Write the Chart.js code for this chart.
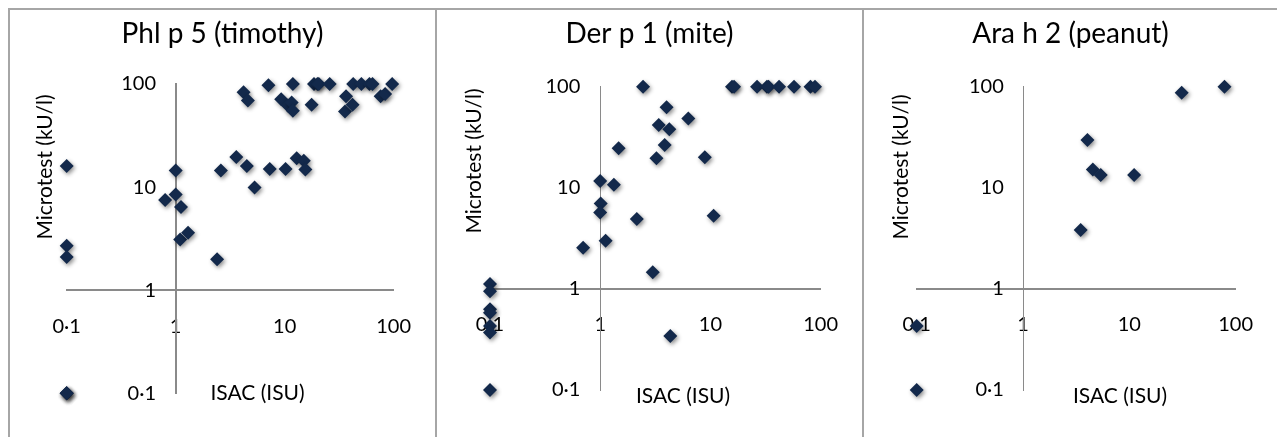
<!DOCTYPE html>
<html>
<head>
<meta charset="utf-8">
<script src="https://cdn.jsdelivr.net/npm/chart.js@4.4.0/dist/chart.umd.min.js"></script>
<style>
  html, body { margin: 0; padding: 0; background: #fff; width: 1277px; height: 437px; overflow: hidden; }
  .panel { position: absolute; top: 8px; height: 429px; box-sizing: border-box;
           border-top: 2px solid #a6a6a6; border-left: 2px solid #a6a6a6; }
  .panel canvas { display: block; }
</style>
</head>
<body>
<div class="panel" style="left:8px; width:427px"><canvas id="phlChart" width="425" height="427"></canvas></div>
<div class="panel" style="left:435px; width:427px"><canvas id="derChart" width="425" height="427"></canvas></div>
<div class="panel" style="left:862px; width:415px"><canvas id="araChart" width="413" height="427"></canvas></div>
<script>
// axis ticks (log scale, both axes)
const tickValues = [0.1, 1, 10, 100];
const tickLabels = ['0·1', '1', '10', '100'];

// Phl p 5 (timothy): ISAC vs Microtest
const phlIsac  = [0.1, 0.1, 0.1, 0.1, 0.1, 0.1,
                  1, 0.8, 1, 1.12, 1.1, 1.3, 2.4, 2.6, 3.6, 4.5, 5.3, 7.3, 10.2, 12.9, 15, 15.5,
                  4.2, 4.6, 7.1, 9.3, 10.7, 11.6, 11.9, 11.9, 17.7, 18.6, 20, 20.6, 25.9,
                  35.8, 36.6, 42, 42.6, 50.6, 60, 64, 76, 83.6, 97];
const phlMicro = [16, 2.7, 2.1, 0.1, 0.1, 0.1,
                  14.5, 7.5, 8.5, 6.4, 3.1, 3.6, 2.0, 14.5, 19.6, 16, 9.9, 15, 15, 19, 18, 14.8,
                  83, 69, 97, 71, 62, 66, 55, 100, 63, 100, 100, 100, 100,
                  54, 76, 63, 100, 100, 100, 100, 76, 80, 100];

// Der p 1 (mite)
const derIsac  = [0.1, 0.1, 0.1, 0.1, 0.1, 0.1, 0.1,
                  2.45, 15.7, 16.4, 26.5, 32.6, 33.7, 42, 57.4, 81, 89,
                  4.0, 6.3, 3.4, 4.24, 3.85, 1.47, 3.24, 8.9, 1, 1.33, 1.01, 1, 2.15, 10.7,
                  1.12, 0.7, 3.0, 4.33];
const derMicro = [1.12, 0.95, 0.63, 0.58, 0.43, 0.37, 0.1,
                  100, 100, 100, 100, 100, 100, 100, 100, 100, 100,
                  62.5, 48.6, 41.8, 37.9, 26.5, 24.6, 19.6, 20, 11.7, 10.7, 7.0, 5.7, 4.9, 5.3,
                  3.0, 2.56, 1.46, 0.343];

// Ara h 2 (peanut)
const araIsac  = [78.6, 31.1, 4.04, 4.54, 5.39, 11.1, 3.49, 0.1, 0.1];
const araMicro = [100, 87, 29.7, 15.2, 13.4, 13.4, 3.83, 0.43, 0.1];

const FONT = 'Lato';
const AXIS_GREY = '#8a8a8a';
const MARKER = '#13294b';
const Y_LABEL_AT = 0.66; // y tick labels sit a little left of the x = 1 axis line

const markerShadow = {
  id: 'markerShadow',
  beforeDatasetsDraw(chart) {
    const ctx = chart.ctx;
    ctx.save();
    ctx.shadowColor = 'rgba(0, 0, 0, 0.45)';
    ctx.shadowBlur = 4;
    ctx.shadowOffsetX = 1.5;
    ctx.shadowOffsetY = 2;
  },
  afterDatasetsDraw(chart) {
    chart.ctx.restore();
  }
};

// axis titles, placed where Excel put them
const captions = {
  id: 'captions',
  afterDraw(chart, args, opts) {
    const ctx = chart.ctx;
    ctx.save();
    ctx.fillStyle = '#000';
    ctx.font = '21px ' + FONT;
    ctx.textAlign = 'center';
    ctx.textBaseline = 'middle';
    ctx.fillText(opts.xText, opts.xAt[0], opts.xAt[1]);
    ctx.translate(opts.yAt[0], opts.yAt[1]);
    ctx.rotate(-Math.PI / 2);
    ctx.fillText(opts.yText, 0, 0);
    ctx.restore();
  }
};

function setTicks(scale) {
  scale.ticks = tickValues.map(v => ({ value: v }));
}

function createPanel(id, title, isac, micro, box) {
  const points = isac.map((x, i) => ({ x: x, y: micro[i] }));
  const tickFont = { family: FONT, size: 20 };

  return new Chart(document.getElementById(id), {
    type: 'scatter',
    data: {
      datasets: [{
        data: points,
        xAxisID: 'x',
        yAxisID: 'y',
        pointStyle: 'rectRot',
        pointRadius: 7,
        pointHoverRadius: 7,
        backgroundColor: MARKER,
        borderWidth: 0,
        clip: false
      }]
    },
    options: {
      responsive: false,
      animation: false,
      devicePixelRatio: 1,
      events: [],
      layout: { padding: { left: 0, right: 0, top: 0, bottom: box.bottom } },
      plugins: {
        legend: { display: false },
        tooltip: { enabled: false },
        title: {
          display: true,
          text: title,
          color: '#000',
          font: { family: FONT, size: 28, weight: 'normal' },
          padding: { top: 7, bottom: box.titleGap }
        },
        captions: {
          xText: 'ISAC (ISU)', xAt: box.xTitle,
          yText: 'Microtest (kU/l)', yAt: box.yTitle
        }
      },
      scales: {
        x: {
          type: 'logarithmic',
          min: 0.1,
          max: 100,
          position: { y: 1 },
          grid: { display: false, drawTicks: false },
          border: { display: true, color: AXIS_GREY, width: 2 },
          ticks: {
            font: tickFont, color: '#000', padding: 24, autoSkip: false, maxRotation: 0,
            callback: (v, i) => tickLabels[i]
          },
          afterBuildTicks: setTicks,
          afterFit: s => { s.height = 0; }
        },
        y: {
          type: 'logarithmic',
          min: 0.1,
          max: 100,
          position: { x: 1 },
          grid: { display: false, drawTicks: false },
          border: { display: true, color: AXIS_GREY, width: box.yLine },
          ticks: { display: false },
          afterBuildTicks: setTicks,
          afterFit: s => { s.width = box.right; }
        },
        yLabels: {
          type: 'logarithmic',
          min: 0.1,
          max: 100,
          position: { x: Y_LABEL_AT },
          grid: { display: false, drawTicks: false },
          border: { display: false },
          ticks: {
            font: tickFont, color: '#000', autoSkip: false,
            callback: (v, i) => tickLabels[i]
          },
          afterBuildTicks: setTicks,
          afterFit: s => { s.width = 0; }
        },
        // empty left box, keeps the plot where Excel had it while the title stays centred
        yPad: {
          type: 'linear',
          position: 'left',
          grid: { display: false, drawTicks: false },
          border: { display: false },
          ticks: { display: false },
          afterFit: s => { s.width = box.left; }
        }
      }
    },
    plugins: [markerShadow, captions]
  });
}

createPanel('phlChart', 'Phl p 5 (timothy)', phlIsac, phlMicro,
  { left: 56.7, right: 36.7, bottom: 43.7, titleGap: 33.4, yLine: 2, xTitle: [247.5, 383], yTitle: [35, 157] });
createPanel('derChart', 'Der p 1 (mite)', derIsac, derMicro,
  { left: 53, right: 36, bottom: 47, titleGap: 36.1, yLine: 1, xTitle: [246, 386.7], yTitle: [37, 151] });
createPanel('araChart', 'Ara h 2 (peanut)', araIsac, araMicro,
  { left: 52.7, right: 25.3, bottom: 47, titleGap: 36.1, yLine: 1, xTitle: [256, 386.7], yTitle: [37, 157] });
</script>
</body>
</html>
